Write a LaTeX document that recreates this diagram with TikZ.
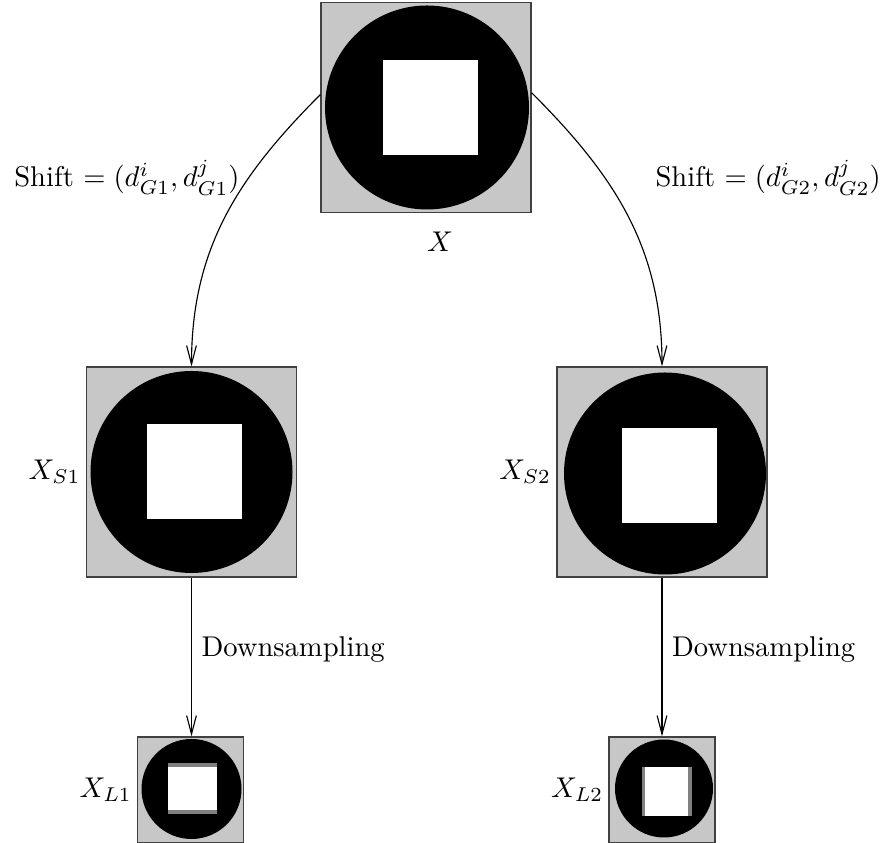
\documentclass[tikz,border=0pt]{standalone}
\usepackage{amsmath}
\usepackage{tikz}
\usetikzlibrary{positioning,arrows.meta}
\definecolor{imgbg}{gray}{0.78}
\definecolor{imgedge}{gray}{0.5}

% disk picture inside a node: node, circle offset, radius, square offset, half side
\newcommand{\diskimg}[5]{%
\begin{scope}[shift={(#1.center)}]
  \fill[black] (#2) circle[radius=#3];
  \fill[white,shift={(#4)}] (-#5,-#5) rectangle (#5,#5);
\end{scope}}

\begin{document}
\begin{tikzpicture}[x=0.35pt,y=0.35pt,>={Straight Barb[length=6.5pt,width=3.4pt]},
  imgbox/.style={draw=black!75,fill=imgbg,inner sep=0pt,minimum size=#1*0.35pt},
  lbl/.style={inner sep=0pt}]
\useasboundingbox (0,0) rectangle (892,843);

% pictures
\node[imgbox=210] (X) at (426,735.5) {};
\node[imgbox=210] (XS1) at (191.5,371) {};
\node[imgbox=210] (XS2) at (662,371) {};
\node[imgbox=106] (XL1) at (190.5,53) {};
\node[imgbox=106] (XL2) at (662,53) {};

\diskimg{X}{1,0}{102}{4.5,0}{47.5}
\diskimg{XS1}{0,0}{101}{3,0}{47.5}
\diskimg{XS2}{3,-1.5}{101}{7.5,-4}{47.5}
\begin{scope}[shift={(XL1.center)}]
  \fill[black] (1,1) circle[radius=50];
  \fill[imgedge] (-22.5,-24) rectangle (26.5,27);
  \fill[white] (-22.5,-20) rectangle (26.5,23);
\end{scope}
\begin{scope}[shift={(XL2.center)}]
  \fill[black] (2,1.5) circle[radius=49];
  \fill[imgedge] (-20,-26) rectangle (30,23);
  \fill[white] (-17,-26) rectangle (26,23);
\end{scope}

% labels
\node[lbl,below=6.3pt of X,xshift=4.9pt] (lX) {$X$};
\node[lbl,left=1.75pt of XS1] (lXS1) {$X_{S1}$};
\node[lbl,left=1.75pt of XS2] (lXS2) {$X_{S2}$};
\node[lbl,left=1.6pt of XL1] (lXL1) {$X_{L1}$};
\node[lbl,left=1.6pt of XL2] (lXL2) {$X_{L2}$};
\node[lbl,anchor=base east] (sh1) at (240,656) {Shift $=(d^i_{G1},d^j_{G1})$};
\node[lbl,anchor=base west] (sh2) at (655,656) {Shift $=(d^i_{G2},d^j_{G2})$};

% arrows
\draw[->] (X.173) to[out=225,in=90] (XS1.north);
\draw[->] (X.8) to[out=-45,in=90] (XS2.north);
\draw[->] (XS1.south) -- (XS1.south |- XL1.north)
  node[pos=0.45,right] (ds1) {Downsampling};
\draw[->] (XS2.south) -- (XL2.north)
  node[pos=0.45,right] (ds2) {Downsampling};
\end{tikzpicture}
\end{document}
